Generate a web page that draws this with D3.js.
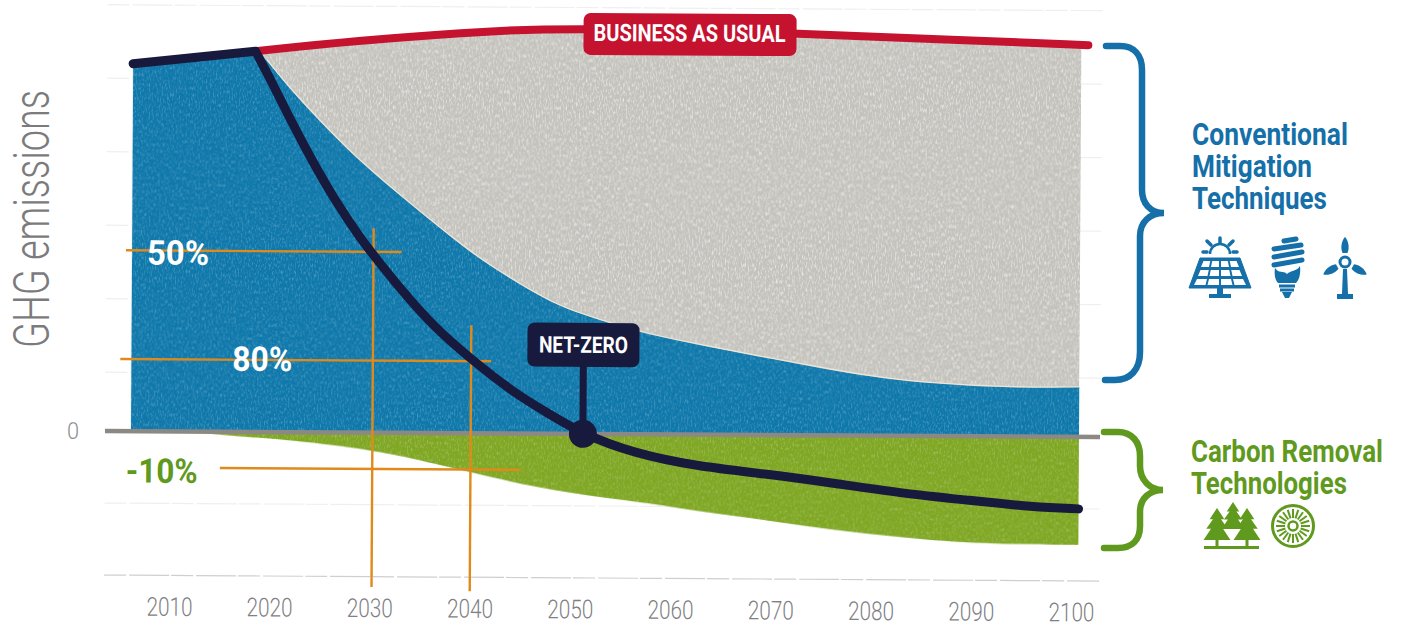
<!DOCTYPE html>
<html>
<head>
<meta charset="utf-8">
<script src="https://cdn.jsdelivr.net/npm/d3@7"></script>
<style>
  html, body { margin: 0; padding: 0; background: #fff; }
  svg { display: block; }
  text { font-family: Roboto, sans-serif; }
</style>
</head>
<body>
<svg id="chart" width="1402" height="630"></svg>
<script>
// values, one grid step = 10 units
var tickYears = [2010, 2020, 2030, 2040, 2050, 2060, 2070, 2080, 2090, 2100];
var gridLevels = [58, 48, 38, 28, 18, 8, -9.8, -19.6];

var pastYears = [2006.1, 2018.3];
var pastValues = [50, 51.8];

var bauYears = [2018.3, 2028, 2043, 2051, 2073, 2088, 2101.4];
var bauValues = [51.8, 53.3, 54.9, 55.2, 54.7, 53.9, 53.3];

var conventionalYears = [2018.3, 2019.5, 2021.3, 2024.7, 2028, 2031.3, 2034.7, 2038, 2041.3, 2044.7, 2048, 2051.3, 2054.7, 2057.3, 2063, 2069.7, 2076.2, 2081.2, 2086.2, 2092.9, 2100.7];
var conventionalValues = [51.8, 50.6, 47.5, 42.5, 38, 34.1, 30.3, 26.7, 23.3, 20.5, 17.9, 16.2, 14.8, 13.8, 12.2, 10.5, 8.9, 7.85, 7.2, 6.7, 6.8];

var removalYears = [2012, 2015.4, 2022.3, 2030.2, 2034.4, 2039.4, 2046.7, 2052.9, 2057.9, 2062.9, 2069.6, 2076.2, 2082.9, 2089.6, 2100.7];
var removalValues = [0, -0.5, -1.07, -2.37, -3.55, -5.14, -7.4, -8.6, -9.35, -10.5, -11.6, -12.9, -13.8, -14.6, -14.7];

var netYears = [2018.3, 2020, 2022, 2024, 2026.3, 2029, 2030.3, 2033, 2036.3, 2039.7, 2044.3, 2047.7, 2051, 2056.2, 2062.9, 2069.6, 2076.2, 2082.9, 2089.6, 2096.2, 2100.7];
var netValues = [51.8, 47.5, 42.05, 37, 31.6, 26.2, 24, 19.4, 14.4, 10.4, 5.5, 2.8, 0.1, -2.6, -4.4, -5.3, -6.5, -7.8, -8.7, -9.6, -9.8];

// orange guides
var targetLabels = ["50%", "80%", "-10%"];
var targetLevels = [24.6, 9.8, -4.95];
var targetFrom = [2005.5, 2005, 2015];
var targetTo = [2033, 2042, 2045];
var guideYears = [2030.2, 2040];
var guideTops = [27.8, 14.7];
var guideBottoms = [-21, -21.5];

var netZeroYear = 2051.2;

var blue = "#0f78ab", grey = "#c4c2bc", green = "#7fa723", red = "#c5122f",
    navy = "#171a3d", orange = "#e08a1c", textBlue = "#156fa8", textGreen = "#5f9a1e";

var svg = d3.select("#chart");

var x = d3.scaleLinear().domain([2010, 2100]).range([170, 1072]);
var y = d3.scaleLinear().domain([0, -20]).range([431, 578]);

function pts(xs, ys) { return xs.map(function(d, i) { return [d, ys[i]]; }); }

var past = pts(pastYears, pastValues),
    bau = pts(bauYears, bauValues),
    conventional = pts(conventionalYears, conventionalValues),
    removal = pts(removalYears, removalValues),
    net = pts(netYears, netValues);

// print speckle for the flat inks, streaky like the scan
var defs = svg.append("defs");
function speckle(id, freq, gain, shift) {
  var f = defs.append("filter").attr("id", id)
    .attr("color-interpolation-filters", "sRGB")
    .attr("x", 0).attr("y", 0).attr("width", 1).attr("height", 1);
  f.append("feTurbulence").attr("type", "fractalNoise").attr("baseFrequency", freq).attr("numOctaves", 2).attr("seed", 4).attr("result", "n");
  f.append("feColorMatrix").attr("in", "n").attr("type", "matrix")
    .attr("values", "0 0 0 0 1  0 0 0 0 1  0 0 0 0 1  " + gain + " 0 0 0 " + shift)
    .attr("result", "w");
  f.append("feComposite").attr("in", "w").attr("in2", "SourceGraphic").attr("operator", "in").attr("result", "c");
  var m = f.append("feMerge");
  m.append("feMergeNode").attr("in", "SourceGraphic");
  m.append("feMergeNode").attr("in", "c");
}
speckle("speckleGrey", "0.7 0.25", 1.6, -0.72);
speckle("speckleInk", "0.7 0.3", 0.7, -0.33);

// grey and blue stop at the same right edge, the red line runs past it
defs.append("clipPath").attr("id", "plotClip").append("rect")
  .attr("x", x(2000)).attr("y", -20)
  .attr("width", x(2100.7) - x(2000)).attr("height", 640);

// the scanned page sits a little crooked
var g = svg.append("g").attr("transform", "rotate(0.344 105 431)");

g.append("g").selectAll("line")
  .data(gridLevels)
  .enter().append("line")
    .attr("x1", 105).attr("x2", 1100)
    .attr("y1", function(d) { return y(d); }).attr("y2", function(d) { return y(d); })
    .attr("stroke", function(d) { return d < -15 ? "#cfcfd3" : "#efeff1"; })
    .attr("stroke-width", 1.2)
    .attr("stroke-dasharray", "22 3 40 2");

var curve = d3.curveBasis;

var lineGen = d3.line()
    .x(function(d) { return x(d[0]); })
    .y(function(d) { return y(d[1]); })
    .curve(curve);

var zeroArea = d3.area()
    .x(function(d) { return x(d[0]); })
    .y0(y(0))
    .y1(function(d) { return y(d[1]); })
    .curve(curve);

// grey wedge between business as usual and the conventional curve
var greyArea = lineGen(bau) + "L" + lineGen(conventional.slice().reverse()).slice(1) + "Z";
g.append("g").attr("clip-path", "url(#plotClip)")
  .append("path").attr("d", greyArea).attr("fill", grey).attr("filter", "url(#speckleGrey)");

g.append("path")
  .attr("d", zeroArea(past) + zeroArea(conventional))
  .attr("fill", blue).attr("filter", "url(#speckleInk)");

g.append("path")
  .attr("d", zeroArea(removal))
  .attr("fill", green).attr("filter", "url(#speckleInk)");

g.append("path").attr("d", lineGen(conventional.slice(1)))
  .attr("fill", "none").attr("stroke", "#efe5d6").attr("stroke-width", 1.4);

g.append("line")
  .attr("x1", 105).attr("x2", 1100)
  .attr("y1", y(0)).attr("y2", y(0))
  .attr("stroke", "#8c8985").attr("stroke-width", 4.5);

g.append("path").attr("d", lineGen(bau))
  .attr("fill", "none").attr("stroke", red).attr("stroke-width", 8).attr("stroke-linecap", "round");

// orange guides
g.append("g").selectAll("line")
  .data(targetLevels)
  .enter().append("line")
    .attr("x1", function(d, i) { return x(targetFrom[i]); })
    .attr("x2", function(d, i) { return x(targetTo[i]); })
    .attr("y1", function(d) { return y(d); }).attr("y2", function(d) { return y(d); })
    .attr("stroke", orange).attr("stroke-width", 2.4);

g.append("g").selectAll("line")
  .data(guideYears)
  .enter().append("line")
    .attr("x1", function(d) { return x(d); }).attr("x2", function(d) { return x(d); })
    .attr("y1", function(d, i) { return y(guideTops[i]); })
    .attr("y2", function(d, i) { return y(guideBottoms[i]); })
    .attr("stroke", orange).attr("stroke-width", 2.4);

// net emissions line, corner kept sharp where it turns
g.append("path")
  .attr("d", lineGen(past) + lineGen(net))
  .attr("fill", "none").attr("stroke", navy).attr("stroke-width", 9)
  .attr("stroke-linecap", "round").attr("stroke-linejoin", "round");

// no condensed face is installed, so squeeze the text to the width it has in the picture
function label(parent, str, px, py, size, weight, fill, width, anchor) {
  var t = parent.append("text")
    .attr("font-size", size).attr("font-weight", weight)
    .attr("fill", fill)
    .attr("text-anchor", anchor || "start")
    .text(str);
  var sx = width / t.node().getComputedTextLength();
  t.attr("transform", "translate(" + px + "," + py + ") scale(" + sx + ",1)");
  return t;
}

// percent labels
var labelX = [177, 262, 162], labelDy = [14, 11, 15],
    labelFill = ["#fff", "#fff", textGreen], labelW = [62, 60, 72];
targetLabels.forEach(function(t, i) {
  label(g, t, labelX[i], y(targetLevels[i]) + labelDy[i], 34, 700, labelFill[i], labelW[i], "middle");
});

// axes
var xAxis = d3.axisBottom(x).tickValues(tickYears).tickFormat(d3.format("d")).tickSize(0).tickPadding(0);
var ax = g.append("g").attr("transform", "translate(0,597)").call(xAxis);
ax.select(".domain").remove();
ax.selectAll("text")
  .attr("font-size", 26).attr("font-weight", 300).attr("fill", "#7f7f85")
  .attr("font-family", "Roboto, sans-serif")
  .attr("textLength", 46).attr("lengthAdjust", "spacingAndGlyphs");

label(g, "0", 73, y(0) + 8, 23, 300, "#8b8b90", 12, "middle");

svg.append("text")
  .attr("transform", "translate(49,348) rotate(-90)")
  .attr("font-size", 50).attr("font-weight", 300).attr("fill", "#7b7b7d")
  .attr("textLength", 258).attr("lengthAdjust", "spacingAndGlyphs")
  .text("GHG emissions");

// callouts
var bauPill = g.append("g").attr("transform", "translate(" + x(2061.7) + ",29)");
bauPill.append("rect").attr("x", -107).attr("y", -19).attr("width", 213).attr("height", 42).attr("rx", 7).attr("fill", red);
label(bauPill, "BUSINESS AS USUAL", -1, 9, 24, 700, "#fff", 192, "middle");

var nzx = x(netZeroYear);
g.append("line").attr("x1", nzx).attr("x2", nzx).attr("y1", 362).attr("y2", y(0))
  .attr("stroke", navy).attr("stroke-width", 7);
g.append("circle").attr("cx", nzx).attr("cy", y(0)).attr("r", 14).attr("fill", navy);
g.append("rect").attr("x", nzx - 56).attr("y", 320).attr("width", 112).attr("height", 44).attr("rx", 7).attr("fill", navy);
label(g, "NET-ZERO", nzx, 350, 23, 700, "#fff", 89, "middle");

// brackets
var brackets = svg.append("g").attr("fill", "none").attr("stroke-width", 6.5).attr("stroke-linecap", "round");
brackets.append("path")
  .attr("stroke", textBlue)
  .attr("d", "M1106,46H1120C1134,46 1142,55 1142,70V190C1142,203 1150,213 1164,213C1150,213 1140,222 1140,236V352C1140,370 1130,380 1115,380H1105");
brackets.append("path")
  .attr("stroke", textGreen)
  .attr("d", "M1104,432H1118C1132,432 1140,442 1140,456V466C1140,480 1150,490 1163,490C1150,490 1140,498 1140,512V526C1140,540 1132,548 1118,548H1104");

// side labels
label(svg, "Conventional", 1192, 145, 31, 700, textBlue, 156);
label(svg, "Mitigation", 1192, 177, 31, 700, textBlue, 120);
label(svg, "Techniques", 1192, 209, 31, 700, textBlue, 135);
label(svg, "Carbon Removal", 1191, 462, 31, 700, textGreen, 192);
label(svg, "Technologies", 1191, 494, 31, 700, textGreen, 156);

// icons
function solar(c) {
  var s = svg.append("g").attr("transform", "translate(1220,0)").attr("fill", c).attr("stroke", c);
  s.append("path").attr("d", "M-20,258H20L31,288H-31Z").attr("stroke-width", 1);
  // panel cells
  var rows = [[261, 267, 17.5, 20], [270, 276, 20.5, 23], [279, 285, 24, 27]];
  rows.forEach(function(r) {
    d3.range(4).forEach(function(k) {
      var a = -1 + k / 2, b = a + 0.5;
      s.append("path").attr("fill", "#fff").attr("stroke", "none")
        .attr("d", "M" + (a * r[2] + 1) + "," + r[0] + "L" + (b * r[2] - 1) + "," + r[0] + "L" + (b * r[3] - 1) + "," + r[1] + "L" + (a * r[3] + 1) + "," + r[1] + "Z");
    });
  });
  s.append("path").attr("d", "M-3,288H3V294H11V298H-11V294H-3Z").attr("stroke", "none");
  s.append("path").attr("d", "M-10,254A10,10 0 0 1 10,254").attr("fill", "none").attr("stroke-width", 2.5);
  [[0, 238, 0, 243], [-13, 241, -9, 245], [13, 241, 9, 245], [-17, 252, -13, 252], [17, 252, 13, 252]].forEach(function(r) {
    s.append("line").attr("x1", r[0]).attr("y1", r[1]).attr("x2", r[2]).attr("y2", r[3]).attr("stroke-width", 3.5).attr("stroke-linecap", "round");
  });
}
function bulb(c) {
  var b = svg.append("g").attr("transform", "translate(1287,0)").attr("stroke", c).attr("fill", "none");
  [[-3, 241, 9, 239], [-13, 249, 14, 245], [-13, 257, 15, 252], [-13, 265, 15, 260]].forEach(function(r) {
    b.append("line").attr("x1", r[0]).attr("y1", r[1]).attr("x2", r[2]).attr("y2", r[3]).attr("stroke-width", 5).attr("stroke-linecap", "round");
  });
  b.append("path").attr("fill", c).attr("stroke", "none")
    .attr("d", "M-12,268C-8,274 -4,270 0,274C4,270 9,272 13,266C14,274 12,280 9,283H-9C-12,280 -13,274 -12,268Z");
  b.append("path").attr("d", "M-8,286H8M-7,290H7").attr("stroke-width", 3);
  b.append("path").attr("fill", c).attr("stroke", "none").attr("d", "M-5,292H5L2,298H-2Z");
}
function turbine(c) {
  var t = svg.append("g").attr("transform", "translate(1345,262)").attr("fill", c);
  [0, 120, 240].forEach(function(a) {
    t.append("path").attr("transform", "rotate(" + a + ")")
      .attr("d", "M-2.5,-9C-5,-15 -3,-22 0,-25C3,-22 5,-15 2.5,-9Z");
  });
  t.append("circle").attr("r", 5).attr("fill", "none").attr("stroke", c).attr("stroke-width", 3);
  t.append("path").attr("d", "M-2,7H2L3,32H8V37H-8V32H-3Z");
}
function tree(parent, cx, top, h, c) {
  var w = h * 0.42;
  parent.append("path").attr("fill", c)
    .attr("d", "M" + cx + "," + top +
      "L" + (cx + w * 0.55) + "," + (top + h * 0.35) + "H" + (cx + w * 0.3) +
      "L" + (cx + w * 0.8) + "," + (top + h * 0.65) + "H" + (cx + w * 0.45) +
      "L" + (cx + w) + "," + (top + h) + "H" + (cx - w) +
      "L" + (cx - w * 0.45) + "," + (top + h * 0.65) + "H" + (cx - w * 0.8) +
      "L" + (cx - w * 0.3) + "," + (top + h * 0.35) + "H" + (cx - w * 0.55) + "Z");
}
function trees(c) {
  var t = svg.append("g");
  tree(t, 1233, 502, 27, c);
  tree(t, 1217, 508, 32, c);
  tree(t, 1247, 508, 32, c);
  t.append("path").attr("d", "M1215.5,538h3v8h-3ZM1245.5,538h3v8h-3Z").attr("fill", c);
  t.append("rect").attr("x", 1204).attr("y", 546).attr("width", 55).attr("height", 3).attr("fill", c);
}
function wheel(c) {
  var w = svg.append("g").attr("transform", "translate(1293,526)").attr("fill", "none").attr("stroke", c);
  w.append("circle").attr("r", 20.5).attr("stroke-width", 3);
  w.append("circle").attr("r", 4.5).attr("stroke-width", 2.5);
  d3.range(20).forEach(function(k) {
    var a = k * Math.PI / 10;
    w.append("line")
      .attr("x1", 8 * Math.cos(a)).attr("y1", 8 * Math.sin(a))
      .attr("x2", 17 * Math.cos(a)).attr("y2", 17 * Math.sin(a))
      .attr("stroke-width", 2);
  });
}
solar(textBlue);
bulb(textBlue);
turbine(textBlue);
trees(textGreen);
wheel(textGreen);
</script>
</body>
</html>
